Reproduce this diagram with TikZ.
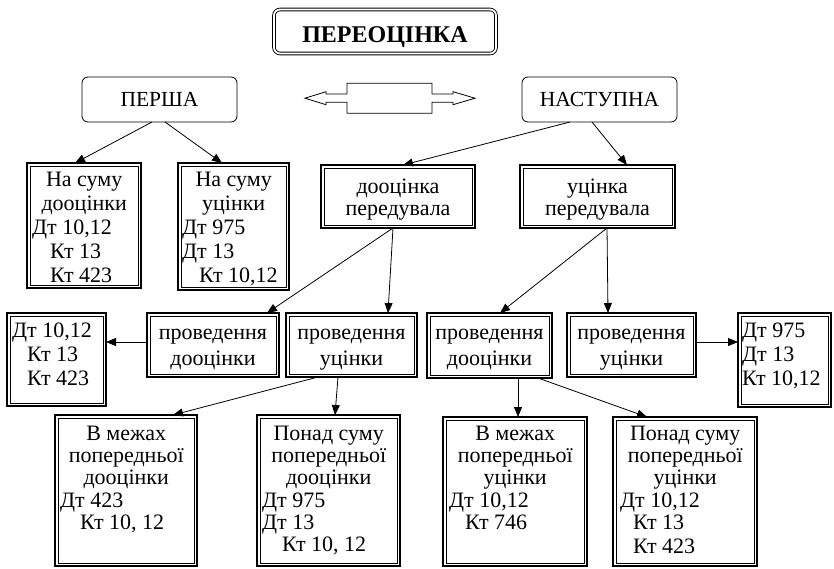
\documentclass[tikz,border=0pt]{standalone}
\usepackage{fontspec}
\setmainfont{Liberation Serif}
\usetikzlibrary{arrows.meta,calc}
\newcommand\fsz[1]{\fontsize{22}{#1}\selectfont}
\newcommand\DBox[5]{%
  \node[dbox, minimum width={#4-#2}, minimum height={#5-#3}] (#1) at ({(#2+#4)/2},{(#3+#5)/2}) {};
  \draw[innerline] ($(#1.north west)+(2.8,2.8)$) rectangle ($(#1.south east)+(-2.8,-2.8)$);}
\begin{document}
\begin{tikzpicture}[x=1pt,y=-1pt,
 dbox/.style={draw, line width=1.5pt, inner sep=0pt, outer sep=0pt},
 innerline/.style={line width=0.6pt},
 rbox/.style={draw, rounded corners=6pt, line width=0.8pt, minimum width=155pt, minimum height=45pt, font=\fontsize{21.5}{24}\selectfont, inner sep=0pt, outer sep=0pt},
 txt/.style={inner sep=0pt, align=left, anchor=north west},
 ctxt/.style={inner sep=0pt, align=center, anchor=north},
 arr/.style={-{Triangle[length=10pt,width=8pt]}, line width=0.8pt},
]
\useasboundingbox (0,0) rectangle (834,568);

% title
\node[draw, double, double distance=1.8pt, line width=0.9pt, rounded corners=6pt,
  minimum width=222pt, minimum height=44pt, inner sep=0pt,
  font=\bfseries\fontsize{24}{28}\selectfont, text height=22pt, text depth=0pt] (title) at (385,31.5) {ПЕРЕОЦІНКА};

% rounded boxes
\node[rbox] (persha) at (159.5,99.5) {ПЕРША};
\node[rbox] (nast) at (599.5,99.5) {НАСТУПНА};

% double arrow
\draw[line width=0.8pt] (305,98.2) -- (326,91.7) -- (326,94) -- (347,94) -- (347,83.3) -- (432,83.3) -- (432,94) -- (453,94) -- (453,91.7) -- (475,98.2) -- (453,104.7) -- (453,102.3) -- (432,102.3) -- (432,113.3) -- (347,113.3) -- (347,102.3) -- (326,102.3) -- (326,104.7) -- cycle;

% double-framed boxes
\DBox{A}{27}{163}{141}{288}
\DBox{B}{178}{163}{289}{290}
\DBox{dper}{321}{165}{475}{228}
\DBox{uper}{520}{165}{675}{228}
\DBox{L}{7}{313}{106}{406}
\DBox{pa}{147}{313}{279}{377}
\DBox{pb}{286}{313}{417}{377}
\DBox{pc}{427}{313}{552}{378}
\DBox{pd}{567}{313}{696}{377}
\DBox{R}{738}{313}{831}{407}
\DBox{C}{55}{415}{197}{566}
\DBox{D}{257}{415}{400}{566}
\DBox{E}{443}{417}{587}{566}
\DBox{F}{613}{417}{757}{566}

% texts
\node[txt, font=\fsz{24}] (At) at (32,169.7) {\makebox[104pt]{\strut На суму}\\\makebox[104pt]{дооцінки}\\Дт 10,12\\\hspace*{18pt}Кт 13\\\hspace*{18pt}Кт 423};
\node[txt, font=\fsz{24}] (Bt) at (182,169.7) {\makebox[103pt]{\strut На суму}\\\makebox[103pt]{уцінки}\\Дт 975\\Дт 13\\\hspace*{17pt}Кт 10,12};
\node[ctxt, font=\fsz{22}] (dpert) at (398,177.6) {\strut дооцінка\\передувала};
\node[ctxt, font=\fsz{22}] (upert) at (597.5,177.6) {\strut уцінка\\передувала};
\node[ctxt, font=\fsz{26}] (pat) at (213,320.8) {\strut проведення\\дооцінки};
\node[ctxt, font=\fsz{26}] (pbt) at (351.5,320.8) {\strut проведення\\уцінки};
\node[ctxt, font=\fsz{26}] (pct) at (489.5,320.8) {\strut проведення\\дооцінки};
\node[ctxt, font=\fsz{26}] (pdt) at (631.5,320.8) {\strut проведення\\уцінки};
\node[txt, font=\fsz{24}] (Lt) at (12,320.2) {\strut Дт 10,12\\\hspace*{15pt}Кт 13\\\hspace*{15pt}Кт 423};
\node[txt, font=\fsz{24}] (Rt) at (742,320.2) {\strut Дт 975\\Дт 13\\Кт 10,12};
\node[txt, font=\fsz{22.3}] (Ct) at (60,424.4) {\makebox[132pt]{\strut В межах}\\\makebox[132pt]{попередньої}\\\makebox[132pt]{дооцінки}\\Дт 423\\\hspace*{20pt}Кт 10, 12};
\node[txt, font=\fsz{22.3}] (Dt) at (262,424.4) {\makebox[133pt]{\strut Понад суму}\\\makebox[133pt]{попередньої}\\\makebox[133pt]{дооцінки}\\Дт 975\\Дт 13\\\hspace*{20pt}Кт 10, 12};
\node[txt, font=\fsz{22.3}] (Et) at (449,424.4) {\makebox[132pt]{\strut В межах}\\\makebox[132pt]{попередньої}\\\makebox[132pt]{уцінки}\\Дт 10,12\\\hspace*{16pt}Кт 746};
\node[txt, font=\fsz{22.3}] (Ft) at (620,424.4) {\makebox[130pt]{\strut Понад суму}\\\makebox[130pt]{попередньої}\\\makebox[130pt]{уцінки}\\Дт 10,12\\\hspace*{13pt}Кт 13\\[2pt]\hspace*{13pt}Кт 423};

% connectors
\draw[arr] ($(persha.south)+(-7.5,0)$) -- ($(A.north)+(-9,0)$);
\draw[arr] ($(persha.south)+(5.5,0)$) -- ($(B.north)+(-11.5,0)$);
\draw[arr] ($(nast.south)+(-29.5,0)$) -- ($(dper.north)+(5,0)$);
\draw[arr] ($(nast.south)+(-7.5,0)$) -- ($(uper.north)+(29.5,0)$);
\draw[arr] ($(dper.south)+(-5,0)$) -- ($(pa.north)+(54,0)$);
\draw[arr] ($(dper.south)+(-5,0)$) -- ($(pb.north)+(36.5,0)$);
\draw[arr] ($(uper.south)+(9.5,0)$) -- ($(pc.north)+(10.5,0)$);
\draw[arr] ($(uper.south)+(9.5,0)$) -- ($(pd.north)+(-23.5,0)$);
\draw[arr] ($(pa.west)+(0,-3)$) coordinate (pw) -- (L.east |- pw);
\draw[arr] ($(pd.east)+(0,-3)$) coordinate (pe) -- (R.west |- pe);
\draw[arr] ($(pb.south)+(-33.5,0)$) -- ($(C.north)+(47,0)$);
\draw[arr] ($(pb.south)+(-13.5,0)$) -- ($(D.north)+(6.5,0)$);
\draw[arr] ($(pc.south)+(28.5,0)$) -- ($(E.north)+(3,0)$);
\draw[arr] ($(pc.south)+(48.5,0)$) -- ($(F.north)+(-38,0)$);
\end{tikzpicture}
\end{document}
